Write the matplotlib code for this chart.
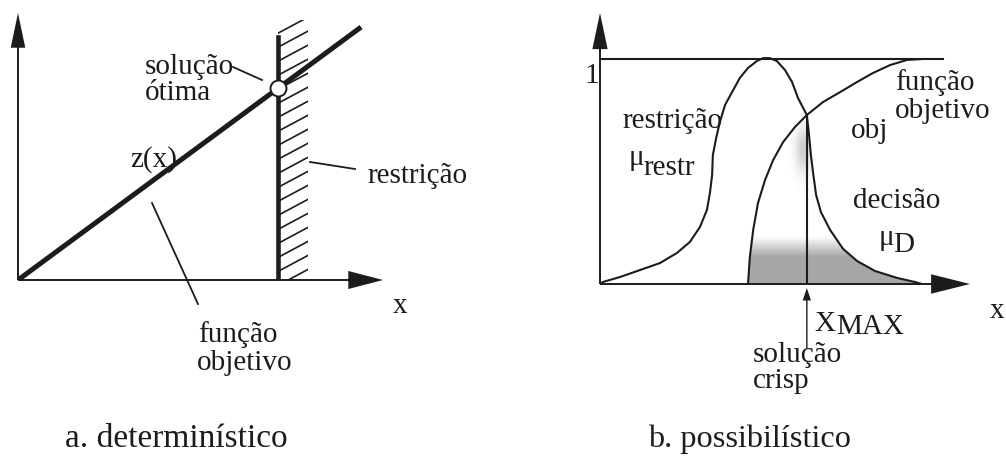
import numpy as np
import matplotlib.pyplot as plt
from matplotlib.patches import Polygon, Rectangle

plt.rcParams['font.family'] = ['Liberation Serif', 'DejaVu Serif']

INK = '#1c1c1c'
W, H = 1006, 457

# --- a. deterministico (unidades arbitrarias) ---
obj_a_x = [0.0, 9.4]
obj_a_y = [0.0, 6.93]
restr_a_x = 7.12
restr_a_top = 6.66
hatch_w = 0.83
hatch_top = 7.12

# --- b. possibilistico (pertinencia 0..1) ---
restr_b_x = [0.00, 0.08, 0.54, 1.08, 1.62, 2.08, 2.43, 2.70, 2.89, 2.97, 3.03,
             3.05, 3.14, 3.24, 3.38, 3.57, 3.78, 4.00, 4.24, 4.41, 4.59, 4.78,
             5.00, 5.19, 5.35, 5.59, 5.65, 5.70, 5.76, 5.84, 5.97, 6.22, 6.57,
             6.95, 7.43, 8.03, 8.51, 8.70]
restr_b_y = [0.000, 0.009, 0.031, 0.062, 0.093, 0.138, 0.187, 0.253, 0.329,
             0.404, 0.484, 0.573, 0.649, 0.720, 0.796, 0.853, 0.916, 0.960,
             0.991, 1.004, 1.004, 0.991, 0.951, 0.898, 0.827, 0.751, 0.662,
             0.573, 0.493, 0.396, 0.320, 0.240, 0.156, 0.102, 0.058, 0.027,
             0.009, 0.000]
obj_b_x = [4.00, 4.05, 4.14, 4.27, 4.46, 4.68, 4.95, 5.27, 5.59, 6.03, 6.49,
           6.95, 7.38, 7.84, 8.30, 8.73]
obj_b_y = [0.000, 0.120, 0.240, 0.360, 0.462, 0.551, 0.631, 0.698, 0.751,
           0.809, 0.853, 0.898, 0.938, 0.973, 0.996, 1.000]
x_max = 5.59
mu_max = 0.751
one_end = 9.27


def px(x, y):
    return x / W, 1 - y / H


def txt(x, y, s, size=21, **kw):
    fig.text(*px(x, y), s, fontsize=size, color=INK, ha='left', va='baseline', **kw)


def leader(x0, y0, x1, y1):
    fig.add_artist(plt.Line2D([x0 / W, x1 / W], [1 - y0 / H, 1 - y1 / H], color=INK, lw=1.3))


def arrow(ax, x0, y0, x1, y1, hw=10.5, hl=25, lw=1.4):
    ax.annotate('', xy=(x1, y1), xytext=(x0, y0), annotation_clip=False,
                arrowprops=dict(width=lw, headwidth=hw, headlength=hl, shrink=0,
                                facecolor=INK, edgecolor=INK, linewidth=0))


fig = plt.figure(figsize=(W / 100, H / 100), dpi=100)

# painel a
axa = fig.add_axes([18 / W, (H - 280) / H, 365 / W, 267 / H])
axa.set_xlim(0, 10)
axa.set_ylim(0, 267 / 36.5)
axa.axis('off')
arrow(axa, 0, 0, 0, 267 / 36.5)
arrow(axa, 0, 0, 10, 0, hw=13, hl=25)

clip = Rectangle((restr_a_x, 0), hatch_w, hatch_top, transform=axa.transData)
slope = 15 / 28
for y0 in np.arange(-1.0, hatch_top + 1, 0.384) + 0.08:
    ln, = axa.plot([restr_a_x, restr_a_x + hatch_w], [y0, y0 + slope * hatch_w],
                   color=INK, lw=1.2)
    ln.set_clip_path(clip)
axa.plot(obj_a_x, obj_a_y, color=INK, lw=3.6, solid_capstyle='butt', zorder=3)
axa.plot([restr_a_x, restr_a_x], [0, restr_a_top], color=INK, lw=3.3, zorder=3)
sol_y = restr_a_x * obj_a_y[1] / obj_a_x[1]
axa.plot([restr_a_x], [sol_y], 'o', ms=11.5, mfc='white', mec=INK, mew=1.4, zorder=5)

# painel b
axb = fig.add_axes([600 / W, (H - 284) / H, 370 / W, 271 / H])
axb.axis('off')

oi = obj_b_x.index(x_max)
bi = restr_b_x.index(x_max)
region = list(zip(obj_b_x[:oi + 1], obj_b_y[:oi + 1]))
region += list(zip(restr_b_x[bi + 1:], restr_b_y[bi + 1:]))
poly = Polygon(region, closed=True, transform=axb.transData)
gx = np.linspace(4.0, 8.7, 300)
gy = np.linspace(0, 0.8, 200)
GX, GY = np.meshgrid(gx, gy)
alpha = np.clip((0.21 - GY) / 0.09, 0, 1) * 0.5
alpha += 0.28 * np.exp(-((GX - 5.5) / 0.22) ** 2 - ((GY - 0.6) / 0.1) ** 2)
rgba = np.zeros(GX.shape + (4,))
rgba[..., :3] = 0.3
rgba[..., 3] = np.clip(alpha, 0, 1)
im = axb.imshow(rgba, extent=(4.0, 8.7, 0, 0.8), origin='lower', aspect='auto',
                zorder=1, interpolation='bilinear')
im.set_clip_path(poly)
axb.set_xlim(0, 10)
axb.set_ylim(0, 271 / 225)

arrow(axb, 0, 0, 0, 271 / 225, hw=11, hl=26)
arrow(axb, 0, 0, 10, 0, hw=14, hl=28)
axb.plot([0, one_end], [1, 1], color=INK, lw=1.5, zorder=3)
axb.plot(restr_b_x, restr_b_y, color=INK, lw=1.5, zorder=3, solid_joinstyle='round')
axb.plot(obj_b_x, obj_b_y, color=INK, lw=1.5, zorder=3, solid_joinstyle='round')
axb.plot([x_max, x_max], [0, mu_max], color=INK, lw=1.5, zorder=3)
arrow(axb, x_max, -64 / 225, x_max, -4 / 225, hw=6, hl=9, lw=1.0)

# textos painel a
txt(145, 74, 'solução')
txt(145, 100, 'ótima')
leader(233, 67, 262, 80)
txt(130, 167, 'z(x)')
txt(367, 183, 'restrição')
leader(310, 162, 355, 169)
leader(152, 203, 198, 304)
txt(198, 342, 'função')
txt(197, 370, 'objetivo')
txt(393, 313, 'x')

# textos painel b
txt(584, 83, '1')
txt(622, 128, 'restrição')
txt(629, 165, 'μ')
txt(643, 175, 'restr')
txt(895, 90, 'função')
txt(895, 118, 'objetivo')
txt(851, 138, 'obj')
txt(853, 208, 'decisão')
txt(879, 245, 'μ')
txt(893, 252, 'D')
txt(814, 331, 'X')
txt(836, 334, 'MAX')
txt(990, 318, 'x')
txt(753, 362, 'solução')
txt(753, 388, 'crisp')

txt(65, 447, 'a. determinístico', size=24)
txt(648, 447, 'b. possibilístico', size=23.3)

fig.savefig('out.png', dpi=100)
